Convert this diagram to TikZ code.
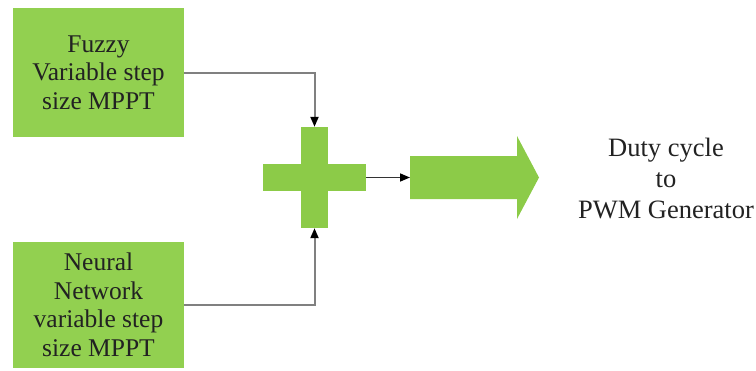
\documentclass[tikz,border=0pt]{standalone}
\usepackage{fontspec}
\newfontfamily\tnr{Liberation Serif}
\usetikzlibrary{arrows.meta,calc}
\definecolor{boxgreen}{HTML}{92D050}
\definecolor{shapegreen}{HTML}{8CCB48}
\definecolor{linegrey}{HTML}{808080}
\definecolor{txt}{HTML}{222222}
\begin{document}
\begin{tikzpicture}[x=1pt,y=-1pt,
  mppt/.style={fill=boxgreen, draw=none, minimum width=171pt, inner sep=0pt, align=center,
    text=txt, font=\tnr\fontsize{25.5}{28.5}\selectfont},
  bar/.style={fill=shapegreen, draw=none, inner sep=0pt},
  conn/.style={draw=linegrey, line width=2pt, -{Triangle[length=10pt,width=8pt,color=black]}}]
\useasboundingbox (0,0) rectangle (756,370);
\node[mppt, minimum height=129pt] (fuzzy) at (98.5,72.5) {Fuzzy\\Variable step\\size MPPT};
\node[mppt, minimum height=126pt] (neural) at (98.5,305) {Neural\\Network\\variable step\\size MPPT};
% plus sign
\node[bar, minimum width=103pt, minimum height=27pt] (hbar) at (314.5,177.5) {};
\node[bar, minimum width=27pt, minimum height=101pt] (vbar) at (314.5,177.5) {};
% big arrow
\coordinate (arrin) at (410,177.5);
\fill[shapegreen] (410,156) -- (517,156) -- (517,136) -- (539,177.5) -- (517,219) -- (517,199) -- (410,199) -- cycle;
\node[text=txt, font=\tnr\fontsize{26.5}{31}\selectfont, align=center, inner sep=0pt] (duty) at (666,178.5) {Duty cycle\\to\\PWM Generator};
\draw[conn] (fuzzy.east) -| (vbar.north);
\draw[conn] (neural.east) -| (vbar.south);
\draw[conn, draw=black!80, line width=1.5pt] (hbar.east) -- (arrin);
\end{tikzpicture}
\end{document}
